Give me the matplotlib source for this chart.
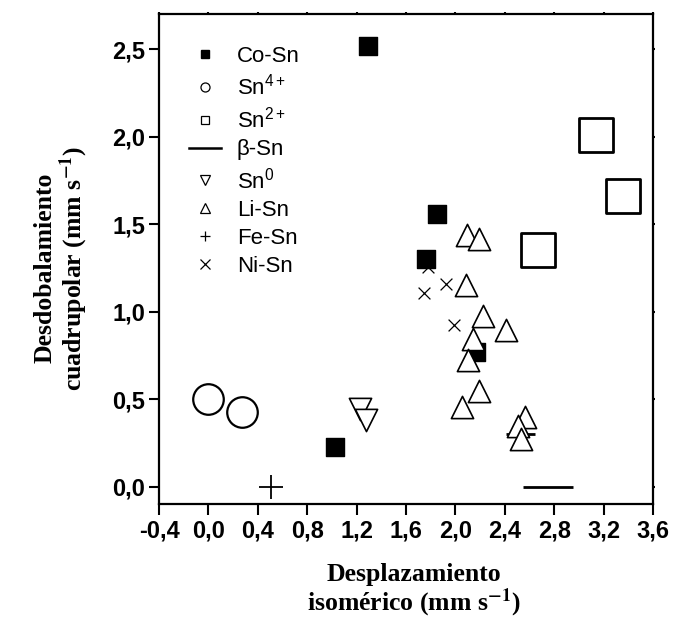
import matplotlib
matplotlib.use("Agg")
import matplotlib.pyplot as plt
from matplotlib.lines import Line2D
from matplotlib.ticker import FuncFormatter, FixedLocator

plt.rcParams['font.family'] = ['Liberation Sans', 'DejaVu Sans']
plt.rcParams['mathtext.fontset'] = 'custom'
plt.rcParams['mathtext.rm'] = 'Liberation Sans'
plt.rcParams['mathtext.it'] = 'Liberation Sans'
plt.rcParams['mathtext.bf'] = 'Liberation Sans:bold'

# ---- data ----
co_x = [1.29, 1.85, 1.76, 1.025, 2.17]
co_y = [2.52, 1.56, 1.30, 0.225, 0.77]

sn4_x = [0.00, 0.27]
sn4_y = [0.50, 0.425]

sn2_x = [3.14, 3.36, 2.67]
sn2_y = [2.01, 1.66, 1.35]

beta_x = [2.75, 2.53]
beta_y = [0.00, 0.30]

sn0_x = [1.23, 1.275]
sn0_y = [0.445, 0.38]

li_x = [2.09, 2.19, 2.085, 2.22, 2.41, 2.145, 2.10, 2.19, 2.055, 2.565, 2.51, 2.53]
li_y = [1.44, 1.415, 1.15, 0.975, 0.895, 0.845, 0.725, 0.545, 0.455, 0.395, 0.345, 0.27]

fe_x = [0.505]
fe_y = [0.00]

ni_x = [1.745, 1.925, 1.775, 1.985]
ni_y = [1.105, 1.155, 1.255, 0.925]

labels = ['Co-Sn', 'Sn$^{4+}$', 'Sn$^{2+}$', 'β-Sn', 'Sn$^{0}$', 'Li-Sn', 'Fe-Sn', 'Ni-Sn']

x_ticks = [-0.4, 0.0, 0.4, 0.8, 1.2, 1.6, 2.0, 2.4, 2.8, 3.2, 3.6]
y_ticks = [0.0, 0.5, 1.0, 1.5, 2.0, 2.5]

# ---- styles ----
beta_widths = [36, 21]

fig = plt.figure(figsize=(6.77, 6.34), dpi=100)
ax = fig.add_axes([159/677, 1-504/634, (653-159)/677, (504-14)/634])

ax.scatter(ni_x, ni_y, marker='x', s=8.5**2, c='black', linewidths=0.9, zorder=3)
ax.scatter(fe_x, fe_y, marker='+', s=17**2, c='black', linewidths=1.3, zorder=3)
ax.scatter(beta_x, beta_y, marker='_', s=[w**2 for w in beta_widths], c='black',
           linewidths=2.0, zorder=3)
ax.scatter(co_x, co_y, marker='s', s=12.5**2, c='black', edgecolors='black',
           linewidths=1.0, zorder=4)
ax.scatter(sn4_x, sn4_y, marker='o', s=22**2, facecolors='white', edgecolors='black',
           linewidths=1.6, zorder=4)
ax.scatter(sn2_x, sn2_y, marker='s', s=25**2, facecolors='white', edgecolors='black',
           linewidths=2.0, zorder=4)
for xx, yy in zip(sn0_x, sn0_y):
    ax.scatter([xx], [yy], marker='v', s=16**2, facecolors='white', edgecolors='black',
               linewidths=1.2, zorder=5)
for xx, yy in zip(li_x, li_y):
    ax.scatter([xx], [yy], marker='^', s=16**2, facecolors='white', edgecolors='black',
               linewidths=1.2, zorder=5)

ax.set_xlim(-0.4, 3.6)
ax.set_ylim(-0.1, 2.7)

ax.xaxis.set_major_locator(FixedLocator(x_ticks))
ax.yaxis.set_major_locator(FixedLocator(y_ticks))
fmt = FuncFormatter(lambda v, p: f"{v:.1f}".replace('.', ','))
ax.xaxis.set_major_formatter(fmt)
ax.yaxis.set_major_formatter(fmt)

for sp in ax.spines.values():
    sp.set_linewidth(1.6)
ax.tick_params(axis='x', which='major', direction='out', length=8, width=1.5,
               labelsize=17, pad=3, top=True)
ax.tick_params(axis='y', which='major', direction='out', length=7, width=1.5,
               labelsize=17, pad=3, right=True)
for t in ax.xaxis.get_major_ticks():
    t.tick2line.set_markersize(1.5)
for t in ax.yaxis.get_major_ticks():
    t.tick2line.set_markersize(1.5)
for lab in ax.get_xticklabels() + ax.get_yticklabels():
    lab.set_fontweight('bold')

# legend proxies
handles = [
    Line2D([], [], ls='none', marker='s', ms=6, mfc='black', mec='black'),
    Line2D([], [], ls='none', marker='o', ms=6.5, mfc='white', mec='black', mew=0.9),
    Line2D([], [], ls='none', marker='s', ms=6, mfc='white', mec='black', mew=0.9),
    Line2D([], [], ls='-', color='black', lw=1.8),
    Line2D([], [], ls='none', marker='v', ms=7, mfc='white', mec='black', mew=0.9),
    Line2D([], [], ls='none', marker='^', ms=7, mfc='white', mec='black', mew=0.9),
    Line2D([], [], ls='none', marker='+', ms=7, mfc='white', mec='black', mew=0.9),
    Line2D([], [], ls='none', marker='x', ms=7, mfc='white', mec='black', mew=0.9),
]
ax.legend(handles, labels, loc='upper left', bbox_to_anchor=(30/494, 1-32/490),
          frameon=False, fontsize=16, handlelength=1.45, handletextpad=0.7,
          labelspacing=0.31, borderpad=0, borderaxespad=0)

fig.text(414/677, 1-591/634, 'Desplazamiento\nisomérico (mm s$^{\\mathbf{-1}}$)',
         ha='center', va='center', multialignment='center',
         family='Liberation Serif', fontweight='bold', fontsize=18.5,
         math_fontfamily='stix', linespacing=1.05)
fig.text(62/677, 1-268/634, 'Desdobalamiento\ncuadrupolar (mm s$^{\\mathbf{-1}}$)',
         ha='center', va='center', multialignment='center', rotation=90,
         family='Liberation Serif', fontweight='bold', fontsize=18.5,
         math_fontfamily='stix', linespacing=1.05)

fig.savefig('out.png', dpi=100)
